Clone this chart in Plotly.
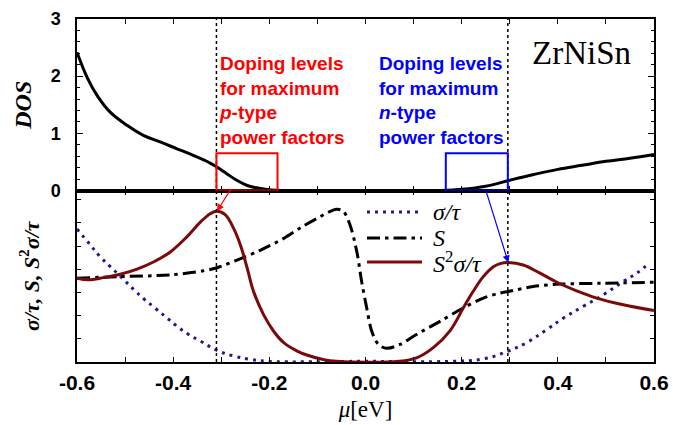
import plotly.graph_objects as go

# ---------------- data ----------------
mu_dos = [-0.600, -0.579, -0.558, -0.531, -0.496, -0.461, -0.427, -0.392, -0.357, -0.323,
          -0.309, -0.288, -0.267, -0.246, -0.226, -0.205, -0.184, -0.160, 0.000, 0.160,
          0.200, 0.250, 0.300, 0.350, 0.400, 0.450, 0.500, 0.550, 0.600]
dos = [2.42, 1.98, 1.66, 1.37, 1.14, 0.96, 0.85, 0.73, 0.61, 0.48,
       0.41, 0.29, 0.175, 0.088, 0.047, 0.018, 0.004, 0.0, 0.0, 0.0,
       0.02, 0.075, 0.18, 0.28, 0.37, 0.44, 0.51, 0.565, 0.63]

mu_sigma = [-0.600, -0.572, -0.551, -0.531, -0.506, -0.482, -0.461, -0.437, -0.413, -0.392,
            -0.368, -0.343, -0.309, -0.274, -0.240, -0.205, 0.000, 0.176, 0.245, 0.297,
            0.335, 0.377, 0.412, 0.453, 0.495, 0.536, 0.564, 0.590]
sigma_tau = [0.775, 0.68, 0.61, 0.555, 0.487, 0.42, 0.366, 0.31, 0.254, 0.205,
             0.157, 0.118, 0.064, 0.031, 0.012, 0.0, 0.0, 0.0, 0.014, 0.06,
             0.109, 0.186, 0.254, 0.322, 0.39, 0.467, 0.516, 0.575]

mu_S = [-0.600, -0.510, -0.406, -0.337, -0.309, -0.267, -0.219, -0.170, -0.136, -0.102,
        -0.060, -0.046, -0.032, -0.018, -0.008, 0.0025, 0.013, 0.027, 0.044, 0.072,
        0.106, 0.155, 0.203, 0.245, 0.280, 0.297, 0.349, 0.405, 0.488, 0.600]
seebeck = [0.487, 0.496, 0.506, 0.53, 0.548, 0.593, 0.65, 0.72, 0.78, 0.835,
           0.89, 0.878, 0.797, 0.641, 0.467, 0.312, 0.176, 0.099, 0.076, 0.099,
           0.157, 0.234, 0.312, 0.37, 0.40, 0.409, 0.438, 0.452, 0.457, 0.463]

mu_pf = [-0.600, -0.576, -0.545, -0.510, -0.475, -0.440, -0.406, -0.371, -0.343, -0.323,
         -0.309, -0.292, -0.274, -0.260, -0.246, -0.233, -0.212, -0.191, -0.170, -0.142,
         -0.122, -0.090, -0.060, 0.070, 0.106, 0.141, 0.176, 0.203, 0.224, 0.245,
         0.266, 0.280, 0.297, 0.328, 0.363, 0.398, 0.439, 0.481, 0.536, 0.600]
power_factor = [0.487, 0.477, 0.49, 0.51, 0.54, 0.583, 0.64, 0.73, 0.816, 0.864,
                0.878, 0.859, 0.777, 0.68, 0.545, 0.41, 0.273, 0.176, 0.109, 0.06,
                0.037, 0.012, 0.0, 0.0, 0.02, 0.08, 0.18, 0.31, 0.41, 0.496,
                0.554, 0.572, 0.578, 0.564, 0.516, 0.463, 0.413, 0.37, 0.331, 0.297]

legend_labels = ["<i>σ/τ</i>", "<i>S</i>", "<i>S</i><sup>2</sup><i>σ/τ</i>"]

x_tick_vals = [-0.6, -0.4, -0.2, 0.0, 0.2, 0.4, 0.6]
x_tick_text = ["-0.6", "-0.4", "-0.2", "0.0", "0.2", "0.4", "0.6"]
x_minor_vals = [-0.5, -0.3, -0.1, 0.1, 0.3, 0.5]
dos_tick_vals = [0, 1, 2, 3]
dos_tick_text = ["0", "1", "2", "3"]

mu_p_opt = -0.31   # doping level for maximum p-type power factor
mu_n_opt = 0.296   # doping level for maximum n-type power factor
box_p = [-0.31, -0.183]
box_n = [0.167, 0.296]
box_top = 0.65

SANS = "Liberation Sans, Arial, sans-serif"
SERIF = "Liberation Serif, Times New Roman, serif"

W, H = 673, 425
ML, MR, MT, MB = 77, 19, 19, 63
PW, PH = W - ML - MR, H - MT - MB


def px_to_paper(px, py):
    return (px - ML) / PW, (H - MB - py) / PH


fig = go.Figure()

fig.add_trace(go.Scatter(x=mu_dos, y=dos, mode="lines",
                         line=dict(color="black", width=3, shape="spline", smoothing=1.1),
                         showlegend=False, xaxis="x", yaxis="y"))

styles = [
    dict(color="#1c1c8a", width=3, dash="3px,5px"),
    dict(color="black", width=3, dash="13px,5px,3.5px,5px"),
    dict(color="#7a0a0a", width=3),
]
smooth = [1.1, 0.9, 1.1]
series = [(mu_sigma, sigma_tau), (mu_S, seebeck), (mu_pf, power_factor)]
for (xs, ys), st, name, sm in zip(series, styles, legend_labels, smooth):
    fig.add_trace(go.Scatter(x=xs, y=ys, mode="lines", name=name,
                             line=dict(shape="spline", smoothing=sm, **st),
                             showlegend=False, xaxis="x2", yaxis="y2"))

# hand-placed legend (key line + label)
legend_rows_px = [212, 238, 262]
for st, name, ry in zip(styles, legend_labels, legend_rows_px):
    x0, y0 = px_to_paper(367, ry)
    x1, _ = px_to_paper(422, ry)
    fig.add_shape(type="line", xref="paper", yref="paper", x0=x0, x1=x1, y0=y0, y1=y0,
                  line=dict(color=st["color"], width=st["width"], dash=st.get("dash", "solid")))
    tx, _ = px_to_paper(431, ry)
    fig.add_annotation(x=tx, y=y0, xref="paper", yref="paper", xanchor="left", yanchor="middle",
                       showarrow=False, text=name, font=dict(family=SERIF, size=24, color="black"))

# vertical dotted lines at optimal doping
for m in (mu_p_opt, mu_n_opt):
    fig.add_shape(type="line", xref="x", yref="paper", x0=m, x1=m, y0=0, y1=1,
                  line=dict(color="black", width=1.5, dash="dot"), layer="above")

# boxes in DOS panel
fig.add_shape(type="rect", xref="x", yref="y", x0=box_p[0], x1=box_p[1], y0=0, y1=box_top,
              line=dict(color="#ff0000", width=2))
fig.add_shape(type="rect", xref="x", yref="y", x0=box_n[0], x1=box_n[1], y0=0, y1=box_top,
              line=dict(color="#0000ff", width=2))

# peaks for arrows
p_idx = max(range(len(mu_pf)), key=lambda i: power_factor[i] if mu_pf[i] < 0 else -1)
n_idx = max(range(len(mu_pf)), key=lambda i: power_factor[i] if mu_pf[i] > 0 else -1)

fig.add_annotation(x=mu_pf[p_idx], y=power_factor[p_idx], xref="x2", yref="y2", text="",
                   showarrow=True, ax=15, ay=-24, arrowcolor="#ff0000", arrowwidth=1.2,
                   arrowhead=2, arrowsize=1.2)
fig.add_annotation(x=mu_pf[n_idx], y=power_factor[n_idx], xref="x2", yref="y2", text="",
                   showarrow=True, ax=-23, ay=-74, arrowcolor="#0000ff", arrowwidth=1.2,
                   arrowhead=2, arrowsize=1.2)

fig.add_annotation(x=mu_p_opt, y=2.44, xref="x", yref="y", xanchor="left", yanchor="top", align="left",
                   xshift=1, showarrow=False,
                   text="Doping levels<br>for maximum<br><i>p</i>-type<br>power factors",
                   font=dict(family=SANS, size=19, color="#ff0000", weight="bold"))
fig.add_annotation(x=0.024, y=2.44, xref="x", yref="y", xanchor="left", yanchor="top", align="left",
                   showarrow=False,
                   text="Doping levels<br>for maximum<br><i>n</i>-type<br>power factors",
                   font=dict(family=SANS, size=19, color="#0000ff", weight="bold"))
fig.add_annotation(x=0.45, y=2.4, xref="x", yref="y", showarrow=False, text="ZrNiSn",
                   font=dict(family=SERIF, size=33, color="black"))

axis_common = dict(showline=True, linecolor="black", linewidth=1.5, mirror="ticks",
                   ticks="inside", tickcolor="black", tickwidth=1.2, showgrid=False, zeroline=False,
                   automargin=False)

fig.update_layout(
    width=W, height=H,
    margin=dict(l=ML, r=MR, t=MT, b=MB),
    paper_bgcolor="white", plot_bgcolor="white",
    showlegend=False,
    xaxis=dict(domain=[0, 1], anchor="y", range=[-0.6, 0.6], tickmode="array", tickvals=x_tick_vals,
               showticklabels=False, ticklen=5,
               minor=dict(tickmode="array", tickvals=x_minor_vals, ticks="inside", ticklen=5, tickcolor="black"),
               **axis_common),
    xaxis2=dict(domain=[0, 1], anchor="y2", range=[-0.6, 0.6], matches="x", tickmode="array",
                tickvals=x_tick_vals, ticktext=x_tick_text, ticklen=5,
                minor=dict(tickmode="array", tickvals=x_minor_vals, ticks="inside", ticklen=5, tickcolor="black"),
                tickfont=dict(family=SANS, size=21, color="black", weight="bold"), ticklabelstandoff=1,
                title=dict(text="<i>μ</i>[eV]", font=dict(family=SERIF, size=23, color="black"), standoff=8),
                **axis_common),
    yaxis=dict(domain=[0.5, 1], anchor="x", range=[0, 3], tickmode="array", tickvals=dos_tick_vals,
               ticktext=dos_tick_text, ticklen=6,
               minor=dict(tickmode="linear", tick0=0, dtick=0.2, ticks="inside", ticklen=3, tickcolor="black"),
               tickfont=dict(family=SANS, size=18, color="black", weight="bold"), ticklabelstandoff=11,
               title=dict(text="<b><i>DOS</i></b>", font=dict(family=SERIF, size=24, color="black"), standoff=12),
               **axis_common),
    yaxis2=dict(domain=[0, 0.5], anchor="x2", range=[-0.004, 1.0], tickmode="linear", tick0=0, dtick=0.135,
                showticklabels=False, ticklen=4,
                title=dict(text="<b><i>σ/τ, S, S</i><sup>2</sup><i>σ/τ</i></b>",
                           font=dict(family=SERIF, size=22, color="black"), standoff=30),
                **axis_common),
)

fig.write_html("out.html")
